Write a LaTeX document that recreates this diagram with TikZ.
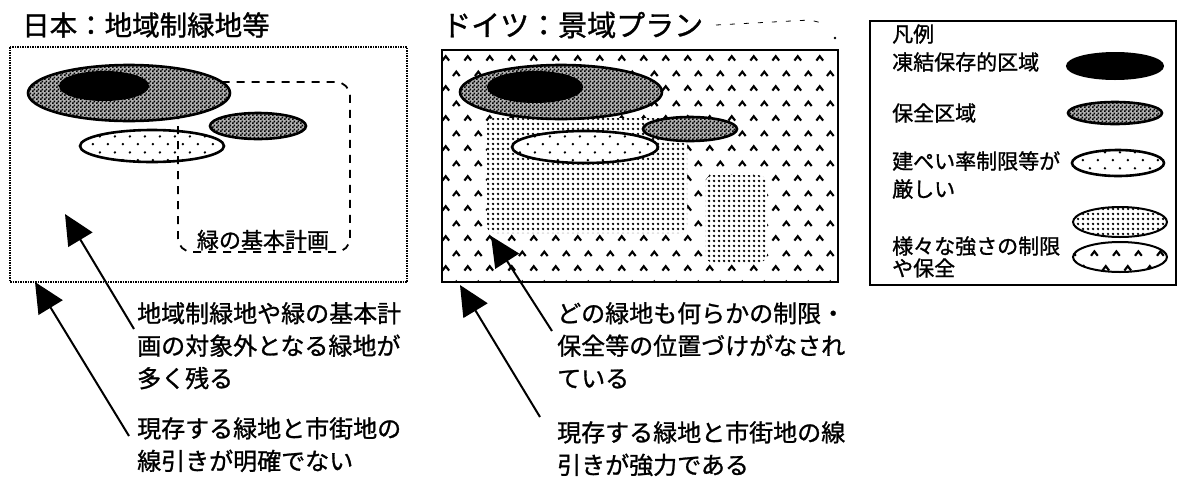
\documentclass[tikz,border=0pt]{standalone}
\usepackage{fontspec}
\setmainfont{Noto Sans CJK JP}[FakeBold=1.1]
\usetikzlibrary{patterns,arrows.meta}

% fill patterns of the scanned figure
\pgfdeclarepatternformonly{checker}{\pgfqpoint{0pt}{0pt}}{\pgfqpoint{4pt}{4pt}}{\pgfqpoint{4pt}{4pt}}{%
  \pgfpathrectangle{\pgfqpoint{0pt}{0pt}}{\pgfqpoint{2pt}{2pt}}%
  \pgfpathrectangle{\pgfqpoint{2pt}{2pt}}{\pgfqpoint{2pt}{2pt}}%
  \pgfusepath{fill}}
\pgfdeclarepatternformonly{sparsedots}{\pgfqpoint{0pt}{0pt}}{\pgfqpoint{15pt}{16pt}}{\pgfqpoint{15pt}{16pt}}{%
  \pgfpathcircle{\pgfqpoint{3pt}{3pt}}{1.4pt}%
  \pgfpathcircle{\pgfqpoint{10.5pt}{11pt}}{1.4pt}%
  \pgfusepath{fill}}
\pgfdeclarepatternformonly{finedots}{\pgfqpoint{0pt}{0pt}}{\pgfqpoint{4.5pt}{4.5pt}}{\pgfqpoint{4.5pt}{4.5pt}}{%
  \pgfpathcircle{\pgfqpoint{2.25pt}{2.25pt}}{1.45pt}%
  \pgfusepath{fill}}
\pgfdeclarepatternformonly{carets}{\pgfqpoint{0pt}{0pt}}{\pgfqpoint{22pt}{30pt}}{\pgfqpoint{22pt}{30pt}}{%
  \pgfsetlinewidth{2.2pt}%
  \pgfpathmoveto{\pgfqpoint{2.5pt}{3.5pt}}\pgfpathlineto{\pgfqpoint{6pt}{8pt}}\pgfpathlineto{\pgfqpoint{9.5pt}{3.5pt}}%
  \pgfpathmoveto{\pgfqpoint{13.5pt}{18.5pt}}\pgfpathlineto{\pgfqpoint{17pt}{23pt}}\pgfpathlineto{\pgfqpoint{20.5pt}{18.5pt}}%
  \pgfusepath{stroke}}

\tikzset{
  frozen/.style={draw=black, fill=black, line width=2pt},
  conserve/.style={draw=black, line width=2.6pt, preaction={fill=gray!60}, pattern=checker},
  strict/.style={draw=black, line width=2.6pt, preaction={fill=white}, pattern=sparsedots},
  mixed/.style={preaction={fill=white}, pattern=finedots},
  loose/.style={preaction={fill=white}, pattern=carets},
  paneltitle/.style={anchor=west, inner sep=0pt},
  remark/.style={anchor=north west, align=left, inner sep=0pt, font=\fontsize{24}{32.5}\selectfont},
  keytext/.style={anchor=west, align=left, inner sep=0pt, font=\fontsize{21}{28}\selectfont},
  pointer/.style={line width=2pt, -{Triangle[length=30pt,width=28pt]}},
}

\begin{document}
\begin{tikzpicture}[x=1pt, y=-1pt]
\fill[white] (0,0) rectangle (1179,483);
\useasboundingbox (0,0) rectangle (1179,483);

% Left diagram
\node (jpTitle) at (22,25) [paneltitle, font=\fontsize{27.5}{30}\selectfont] {日本：地域制緑地等};
\draw[line width=1.6pt, dash pattern=on 1.5pt off 1pt] (10,47) rectangle (407,282);
\draw[strict] (152,146) ellipse [x radius=72, y radius=16];
\draw[line width=1.8pt, dash pattern=on 8pt off 7pt, rounded corners=14pt] (178,82) rectangle (350,252);
\draw[conserve] (129,93) ellipse [x radius=101, y radius=28];
\draw[frozen] (104,86) ellipse [x radius=44, y radius=14];
\draw[conserve] (258,126) ellipse [x radius=48, y radius=13];
\node (planLabel) at (263,240) [font=\fontsize{22}{26}\selectfont, inner sep=0pt] {緑の基本計画};

\node (jpNoteA) at (137,302) [remark] {地域制緑地や緑の基本計\\画の対象外となる緑地が\\多く残る};
\node (jpNoteB) at (137,417) [remark] {現存する緑地と市街地の\\線引きが明確でない};
\coordinate (jpTipA) at (65,214);
\coordinate (jpTipB) at (35,282);
\draw[pointer] ([shift={(-3,27)}]jpNoteA.north west) -- (jpTipA);
\draw[pointer] ([shift={(-8,19)}]jpNoteB.north west) -- (jpTipB);

% Middle diagram
\node (deTitle) at (442,25) [paneltitle, font=\fontsize{29}{30}\selectfont] {ドイツ：景域プラン};
\draw[line width=0.8pt, dash pattern=on 5pt off 9pt] (716,25) -- (810,20) -- (826,24);
\fill (835,38) circle (1.3);
\draw[loose, line width=2pt] (442,50) rectangle (838,282);
\path[mixed, rounded corners=7pt] (487,118) rectangle (687,233);
\path[mixed, rounded corners=9pt] (705,175) rectangle (767,263);
\draw[strict] (585,147) ellipse [x radius=73, y radius=16];
\draw[conserve] (561,92) ellipse [x radius=101, y radius=27];
\draw[frozen] (535,87) ellipse [x radius=47, y radius=15];
\draw[conserve] (690,129) ellipse [x radius=47, y radius=12];

\node (deNoteA) at (557,302) [remark] {どの緑地も何らかの制限・\\保全等の位置づけがなされ\\ている};
\node (deNoteB) at (557,421) [remark] {現存する緑地と市街地の線\\引きが強力である};
\coordinate (deTipA) at (491,236);
\coordinate (deTipB) at (460,285);
\draw[pointer] ([shift={(-5,29)}]deNoteA.north west) -- (deTipA);
\draw[pointer] ([shift={(-17,-4)}]deNoteB.north west) -- (deTipB);

% Legend
\draw[line width=1.2pt] (870,21) rectangle (1176,285);
\node (keyHead) at (892,34) [keytext] {凡例};
\node (keyFrozen) at (892,62) [keytext] {凍結保存的区域};
\node (keyConserve) at (892,113) [keytext] {保全区域};
\node (keyStrict) at (892,175) [keytext] {建ぺい率制限等が\\厳しい};
\node (keyMixed) at (892,257) [keytext, font=\fontsize{21}{22}\selectfont] {様々な強さの制限\\や保全};
\draw[frozen] (1115,66) ellipse [x radius=48, y radius=13];
\draw[conserve] (1115,113) ellipse [x radius=47, y radius=11];
\draw[strict] (1118,163) ellipse [x radius=46, y radius=13];
\draw[mixed, draw=black, line width=2pt] (1120,222) ellipse [x radius=47, y radius=15];
\draw[loose, draw=black, line width=2pt] (1120,257) ellipse [x radius=47, y radius=15];
\end{tikzpicture}
\end{document}
